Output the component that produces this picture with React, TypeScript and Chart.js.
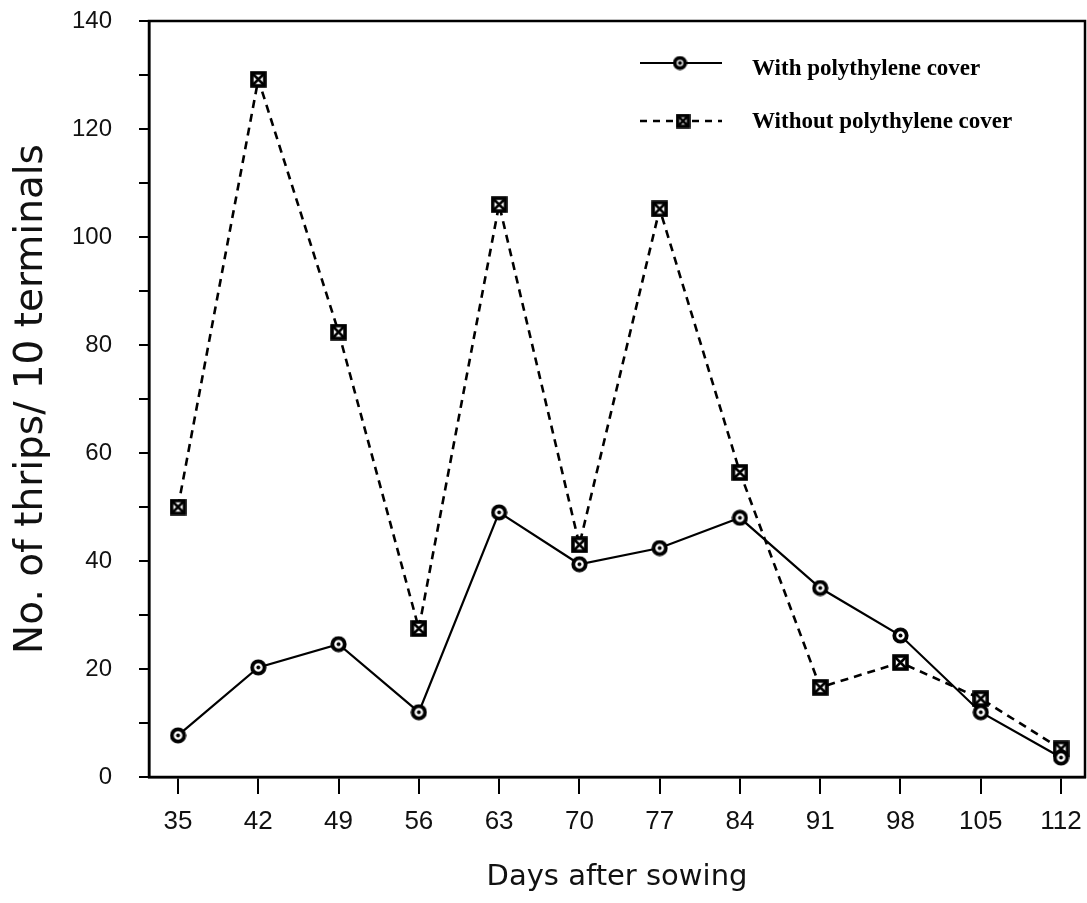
import React, { useEffect, useRef } from "react";
import { Chart, registerables } from "chart.js";

Chart.register(...registerables);

// ---- data ----
const days = [35, 42, 49, 56, 63, 70, 77, 84, 91, 98, 105, 112];
const withCover = [7.7, 20.3, 24.6, 12, 49, 39.4, 42.4, 48, 35, 26.2, 12, 3.6];
const withoutCover = [50, 129.2, 82.4, 27.5, 106, 43, 105.2, 56.4, 16.6, 21.2, 14.5, 5.2];
const yTickValues = [0, 10, 20, 30, 40, 50, 60, 70, 80, 90, 100, 110, 120, 130, 140];
const yLabelledTicks = [0, 20, 40, 60, 80, 100, 120, 140];
const seriesNames = ["With polythylene cover", "Without polythylene cover"];

function makeCircleMarker(size: number) {
  const c = document.createElement("canvas");
  c.width = size;
  c.height = size;
  const ctx = c.getContext("2d")!;
  const r = size / 2;
  ctx.beginPath();
  ctx.arc(r, r, r - 2.3, 0, Math.PI * 2);
  ctx.fillStyle = "#fff";
  ctx.fill();
  ctx.lineWidth = 3.8;
  ctx.strokeStyle = "#000";
  ctx.stroke();
  ctx.beginPath();
  ctx.arc(r, r, 2, 0, Math.PI * 2);
  ctx.fillStyle = "#000";
  ctx.fill();
  return c;
}

function makeSquareMarker(size: number) {
  const c = document.createElement("canvas");
  c.width = size;
  c.height = size;
  const ctx = c.getContext("2d")!;
  const p = 2;
  ctx.fillStyle = "#fff";
  ctx.fillRect(p, p, size - 2 * p, size - 2 * p);
  ctx.strokeStyle = "#000";
  ctx.lineWidth = 3.6;
  ctx.strokeRect(p, p, size - 2 * p, size - 2 * p);
  ctx.lineWidth = 2.6;
  ctx.beginPath();
  ctx.moveTo(p, p);
  ctx.lineTo(size - p, size - p);
  ctx.moveTo(size - p, p);
  ctx.lineTo(p, size - p);
  ctx.stroke();
  return c;
}

export default function App() {
  const canvasRef = useRef<HTMLCanvasElement | null>(null);

  useEffect(() => {
    if (!canvasRef.current) return;
    const circle = makeCircleMarker(17);
    const square = makeSquareMarker(17);
    const circleSmall = makeCircleMarker(15);
    const squareSmall = makeSquareMarker(15);

    const framePlugin = {
      id: "frame",
      beforeDatasetsDraw(chart: any) {
        const { ctx, chartArea } = chart;
        ctx.save();
        ctx.strokeStyle = "#000";
        ctx.lineWidth = 2.5;
        ctx.strokeRect(chartArea.left, chartArea.top, chartArea.right - chartArea.left, chartArea.bottom - chartArea.top);
        ctx.restore();
      },
    };

    const legendPlugin = {
      id: "customLegend",
      afterDraw(chart: any) {
        const { ctx } = chart;
        ctx.save();
        ctx.strokeStyle = "#000";
        ctx.fillStyle = "#000";
        // entry 1
        ctx.lineWidth = 2;
        ctx.setLineDash([]);
        ctx.beginPath();
        ctx.moveTo(640, 63);
        ctx.lineTo(722, 63);
        ctx.stroke();
        ctx.drawImage(circleSmall, 680 - 7.5, 63 - 7.5);
        // entry 2
        ctx.lineWidth = 2.5;
        ctx.setLineDash([7, 6]);
        ctx.beginPath();
        ctx.moveTo(640, 121);
        ctx.lineTo(722, 121);
        ctx.stroke();
        ctx.setLineDash([]);
        ctx.drawImage(squareSmall, 683 - 7.5, 121 - 7.5);
        ctx.font = "bold 23px 'Liberation Serif', 'Times New Roman', serif";
        ctx.textBaseline = "alphabetic";
        ctx.textAlign = "left";
        ctx.fillText(seriesNames[0], 752, 75);
        ctx.fillText(seriesNames[1], 752, 128);
        ctx.restore();
      },
    };

    const chart = new Chart(canvasRef.current, {
      type: "line",
      data: {
        datasets: [
          {
            label: seriesNames[0],
            data: days.map((d, i) => ({ x: d, y: withCover[i] })),
            borderColor: "#000",
            backgroundColor: "#000",
            borderWidth: 2.2,
            pointStyle: circle as any,
            pointRadius: 8,
            tension: 0,
          },
          {
            label: seriesNames[1],
            data: days.map((d, i) => ({ x: d, y: withoutCover[i] })),
            borderColor: "#000",
            backgroundColor: "#000",
            borderWidth: 2.6,
            borderDash: [8, 6],
            pointStyle: square as any,
            pointRadius: 8,
            tension: 0,
          },
        ],
      },
      options: {
        animation: false,
        responsive: true,
        maintainAspectRatio: false,
        layout: { autoPadding: false, padding: { top: 21, right: 2, left: 0, bottom: 0 } },
        plugins: {
          legend: { display: false },
          tooltip: { enabled: false },
        },
        scales: {
          x: {
            type: "linear",
            min: 32.47,
            max: 114.09,
            afterBuildTicks: (scale: any) => {
              scale.ticks = days.map((v) => ({ value: v }));
            },
            afterFit: (scale: any) => {
              scale.height = 126;
              scale.paddingLeft = 0;
              scale.paddingRight = 0;
            },
            grid: {
              display: true,
              drawOnChartArea: false,
              drawTicks: true,
              tickLength: 17,
              color: "#000",
              lineWidth: 2,
            },
            border: { display: true, color: "#000", width: 2.5 },
            ticks: {
              autoSkip: false,
              maxRotation: 0,
              padding: 12,
              color: "#111",
              font: { family: "'Liberation Sans', Arial, sans-serif", size: 26 },
              callback: (v: any) => String(v),
            },
            title: {
              display: true,
              text: "Days after sowing",
              color: "#111",
              font: { family: "'DejaVu Sans', sans-serif", size: 29 },
              padding: { top: 0, bottom: 8 },
            },
          },
          y: {
            type: "linear",
            min: 0,
            max: 140,
            afterBuildTicks: (scale: any) => {
              scale.ticks = yTickValues.map((v) => ({ value: v }));
            },
            afterFit: (scale: any) => {
              scale.width = 149;
              scale.paddingTop = 0;
              scale.paddingBottom = 0;
            },
            grid: {
              display: true,
              drawOnChartArea: false,
              drawTicks: true,
              tickLength: 10,
              color: "#000",
              lineWidth: 2,
            },
            border: { display: true, color: "#000", width: 2.5 },
            ticks: {
              autoSkip: false,
              padding: 27,
              color: "#111",
              font: { family: "'Liberation Sans', Arial, sans-serif", size: 24 },
              callback: (v: any) => (yLabelledTicks.includes(Number(v)) ? String(v) : ""),
            },
            title: {
              display: true,
              text: "No. of thrips/ 10 terminals",
              color: "#111",
              font: { family: "'DejaVu Sans', sans-serif", size: 39 },
              padding: { top: 8, bottom: 0 },
            },
          },
        },
      },
      plugins: [framePlugin, legendPlugin],
    });

    return () => chart.destroy();
  }, []);

  return (
    <div style={{ position: "absolute", left: 0, top: 0, width: 1087, height: 903, background: "#fff" }}>
      <canvas ref={canvasRef} />
    </div>
  );
}
